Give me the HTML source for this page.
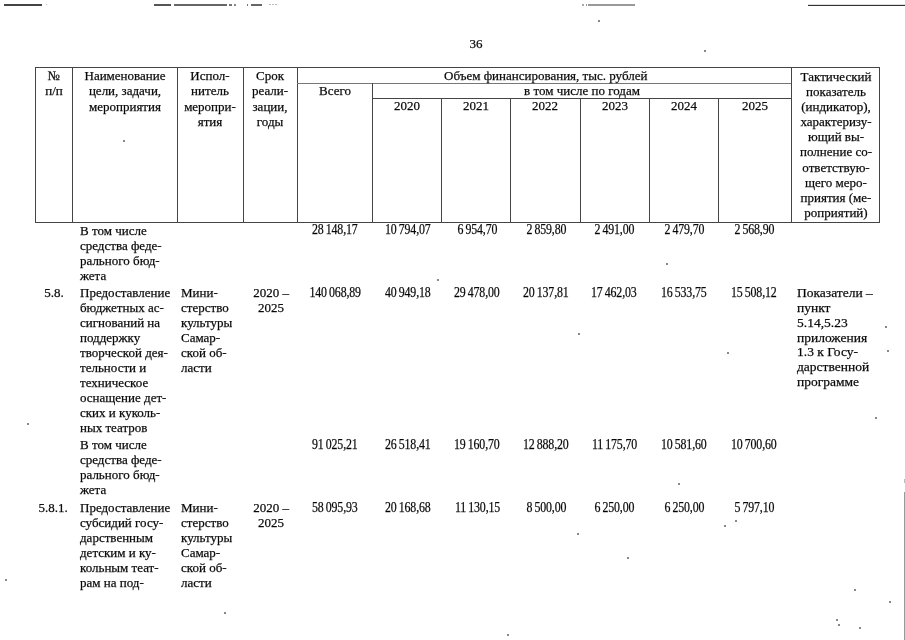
<!DOCTYPE html>
<html><head><meta charset="utf-8"><style>
html,body{margin:0;padding:0;background:#fff;}
body{width:905px;height:640px;position:relative;overflow:hidden;}
.l{position:absolute;}
.t{position:absolute;will-change:transform;font-family:"Liberation Serif",serif;font-size:13px;color:#000;white-space:nowrap;-webkit-text-stroke:0.25px #222;}
</style></head><body>
<div class="l" style="left:4px;top:4px;width:38px;height:1.6px;background:#444"></div>
<div class="l" style="left:46px;top:4px;width:1px;height:1px;background:#bbb"></div>
<div class="l" style="left:154px;top:4.3px;width:17px;height:1.4px;background:#555"></div>
<div class="l" style="left:174px;top:4.3px;width:53px;height:1.4px;background:#666"></div>
<div class="l" style="left:229px;top:4.3px;width:3px;height:1.4px;background:#777"></div>
<div class="l" style="left:234px;top:4.3px;width:2px;height:1.4px;background:#888"></div>
<div class="l" style="left:247px;top:4.3px;width:1px;height:1.4px;background:#777"></div>
<div class="l" style="left:251px;top:4.3px;width:11px;height:1.4px;background:#666"></div>
<div class="l" style="left:269px;top:4px;width:2px;height:1px;background:#bbb"></div>
<div class="l" style="left:272px;top:4px;width:2px;height:1px;background:#bbb"></div>
<div class="l" style="left:275px;top:4px;width:2px;height:1px;background:#bbb"></div>
<div class="l" style="left:582px;top:4px;width:2px;height:2px;background:#aaa"></div>
<div class="l" style="left:586px;top:4px;width:1px;height:2px;background:#999"></div>
<div class="l" style="left:588px;top:4px;width:47px;height:2px;background:#999"></div>
<div class="l" style="left:808px;top:5px;width:97px;height:1px;background:#333"></div>
<div class="l" style="left:808px;top:4px;width:97px;height:1px;background:#ddd"></div>
<div class="l" style="left:904px;top:479px;width:1px;height:4px;background:#bbb"></div>
<div class="l" style="left:904px;top:492px;width:1px;height:148px;background:#999"></div>
<div class="l" style="left:678px;top:483px;width:1.5px;height:1.5px;background:#888"></div>
<div class="l" style="left:724px;top:525px;width:1.5px;height:1.5px;background:#888"></div>
<div class="l" style="left:735px;top:520px;width:1.5px;height:1.5px;background:#888"></div>
<div class="l" style="left:627px;top:557px;width:1.5px;height:1.5px;background:#888"></div>
<div class="l" style="left:854px;top:589px;width:1.5px;height:1.5px;background:#888"></div>
<div class="l" style="left:889px;top:601px;width:1.5px;height:1.5px;background:#888"></div>
<div class="l" style="left:836px;top:619px;width:1.5px;height:1.5px;background:#888"></div>
<div class="l" style="left:838px;top:624px;width:1.5px;height:1.5px;background:#888"></div>
<div class="l" style="left:859px;top:627px;width:1.5px;height:1.5px;background:#888"></div>
<div class="l" style="left:5px;top:579px;width:1.5px;height:1.5px;background:#888"></div>
<div class="l" style="left:224px;top:612px;width:1.5px;height:1.5px;background:#888"></div>
<div class="l" style="left:507px;top:634px;width:1.5px;height:1.5px;background:#888"></div>
<div class="l" style="left:437px;top:279px;width:1.5px;height:1.5px;background:#888"></div>
<div class="l" style="left:666px;top:263px;width:1.5px;height:1.5px;background:#888"></div>
<div class="l" style="left:578px;top:333px;width:1.5px;height:1.5px;background:#888"></div>
<div class="l" style="left:727px;top:352px;width:1.5px;height:1.5px;background:#888"></div>
<div class="l" style="left:885px;top:326px;width:1.5px;height:1.5px;background:#888"></div>
<div class="l" style="left:887px;top:350px;width:1.5px;height:1.5px;background:#888"></div>
<div class="l" style="left:875px;top:417px;width:1.5px;height:1.5px;background:#888"></div>
<div class="l" style="left:123px;top:140px;width:1.5px;height:1.5px;background:#888"></div>
<div class="l" style="left:27px;top:423px;width:1.5px;height:1.5px;background:#888"></div>
<div class="l" style="left:598px;top:20px;width:1.5px;height:1.5px;background:#888"></div>
<div class="l" style="left:577px;top:533px;width:1.5px;height:1.5px;background:#888"></div>
<div class="l" style="left:704px;top:50px;width:1.5px;height:1.5px;background:#888"></div>
<div class="t" style="left:376.3px;width:200px;text-align:center;top:35.81px;line-height:15px;">36</div>
<div class="l" style="left:35px;top:67px;width:845px;height:1px;background:#454545"></div>
<div class="l" style="left:35px;top:222px;width:845px;height:1px;background:#454545"></div>
<div class="l" style="left:35px;top:67px;width:1px;height:156px;background:#454545"></div>
<div class="l" style="left:72px;top:67px;width:1px;height:156px;background:#454545"></div>
<div class="l" style="left:177px;top:67px;width:1px;height:156px;background:#454545"></div>
<div class="l" style="left:243px;top:67px;width:1px;height:156px;background:#454545"></div>
<div class="l" style="left:297px;top:67px;width:1px;height:156px;background:#454545"></div>
<div class="l" style="left:791px;top:67px;width:1px;height:156px;background:#454545"></div>
<div class="l" style="left:879px;top:67px;width:1px;height:156px;background:#454545"></div>
<div class="l" style="left:297px;top:83px;width:494px;height:1px;background:#777"></div>
<div class="l" style="left:372px;top:83px;width:1px;height:139px;background:#454545"></div>
<div class="l" style="left:372px;top:98px;width:419px;height:1px;background:#454545"></div>
<div class="l" style="left:441px;top:98px;width:1px;height:124px;background:#454545"></div>
<div class="l" style="left:510px;top:98px;width:1px;height:124px;background:#454545"></div>
<div class="l" style="left:580px;top:98px;width:1px;height:124px;background:#454545"></div>
<div class="l" style="left:649px;top:98px;width:1px;height:124px;background:#454545"></div>
<div class="l" style="left:718px;top:98px;width:1px;height:124px;background:#454545"></div>
<div class="t" style="left:-46.5px;width:200px;text-align:center;top:67.96px;line-height:15.3px;">№<br>п/п</div>
<div class="t" style="left:24.799999999999997px;width:200px;text-align:center;top:67.96px;line-height:15.3px;">Наименование<br>цели, задачи,<br>мероприятия</div>
<div class="t" style="left:109.80000000000001px;width:200px;text-align:center;top:67.99px;line-height:15.25px;">Испол-<br>нитель<br>меропри-<br>ятия</div>
<div class="t" style="left:170px;width:200px;text-align:center;top:67.99px;line-height:15.25px;">Срок<br>реали-<br>зации,<br>годы</div>
<div class="t" style="left:444px;width:200px;text-align:center;top:67.91px;line-height:15px;">Объем финансирования, тыс. рублей</div>
<div class="t" style="left:234.5px;width:200px;text-align:center;top:83.11px;line-height:15px;">Всего</div>
<div class="t" style="left:481.5px;width:200px;text-align:center;top:83.11px;line-height:15px;">в том числе по годам</div>
<div class="t" style="left:307px;width:200px;text-align:center;top:98.41px;line-height:15px;">2020</div>
<div class="t" style="left:376px;width:200px;text-align:center;top:98.41px;line-height:15px;">2021</div>
<div class="t" style="left:445px;width:200px;text-align:center;top:98.41px;line-height:15px;">2022</div>
<div class="t" style="left:514.5px;width:200px;text-align:center;top:98.41px;line-height:15px;">2023</div>
<div class="t" style="left:583.5px;width:200px;text-align:center;top:98.41px;line-height:15px;">2024</div>
<div class="t" style="left:654.5px;width:200px;text-align:center;top:98.41px;line-height:15px;">2025</div>
<div class="t" style="left:735.5px;width:200px;text-align:center;top:68.76px;line-height:15.1px;">Тактический<br>показатель<br>(индикатор),<br>характеризу-<br>ющий вы-<br>полнение со-<br>ответствую-<br>щего меро-<br>приятия (ме-<br>роприятий)</div>
<div class="t" style="left:79.5px;top:222.71px;line-height:15px;">В том числе<br>средства феде-<br>рального бюд-<br>жета</div>
<div class="t n" style="left:234.75px;width:200px;text-align:center;top:222.08px;line-height:15px;font-size:14px;letter-spacing:-0.2px"><span style="display:inline-block;transform:scaleX(0.85)">28<span style="display:inline-block;width:2.6px"></span>148,17</span></div>
<div class="t n" style="left:307.5px;width:200px;text-align:center;top:222.08px;line-height:15px;font-size:14px;letter-spacing:-0.2px"><span style="display:inline-block;transform:scaleX(0.85)">10<span style="display:inline-block;width:2.6px"></span>794,07</span></div>
<div class="t n" style="left:376.5px;width:200px;text-align:center;top:222.08px;line-height:15px;font-size:14px;letter-spacing:-0.2px"><span style="display:inline-block;transform:scaleX(0.85)">6<span style="display:inline-block;width:2.6px"></span>954,70</span></div>
<div class="t n" style="left:445.5px;width:200px;text-align:center;top:222.08px;line-height:15px;font-size:14px;letter-spacing:-0.2px"><span style="display:inline-block;transform:scaleX(0.85)">2<span style="display:inline-block;width:2.6px"></span>859,80</span></div>
<div class="t n" style="left:514px;width:200px;text-align:center;top:222.08px;line-height:15px;font-size:14px;letter-spacing:-0.2px"><span style="display:inline-block;transform:scaleX(0.85)">2<span style="display:inline-block;width:2.6px"></span>491,00</span></div>
<div class="t n" style="left:583.5px;width:200px;text-align:center;top:222.08px;line-height:15px;font-size:14px;letter-spacing:-0.2px"><span style="display:inline-block;transform:scaleX(0.85)">2<span style="display:inline-block;width:2.6px"></span>479,70</span></div>
<div class="t n" style="left:654px;width:200px;text-align:center;top:222.08px;line-height:15px;font-size:14px;letter-spacing:-0.2px"><span style="display:inline-block;transform:scaleX(0.85)">2<span style="display:inline-block;width:2.6px"></span>568,90</span></div>
<div class="t" style="left:-45.7px;width:200px;text-align:center;top:285.11px;line-height:15px;">5.8.</div>
<div class="t" style="left:80px;top:285.31px;line-height:15px;">Предоставление<br>бюджетных ас-<br>сигнований на<br>поддержку<br>творческой дея-<br>тельности и<br>техническое<br>оснащение дет-<br>ских и куколь-<br>ных театров</div>
<div class="t" style="left:180.6px;top:285.31px;line-height:15px;">Мини-<br>стерство<br>культуры<br>Самар-<br>ской об-<br>ласти</div>
<div class="t" style="left:171px;width:200px;text-align:center;top:285.31px;line-height:15px;">2020 –<br>2025</div>
<div class="t n" style="left:234.75px;width:200px;text-align:center;top:284.77px;line-height:15px;font-size:14px;letter-spacing:-0.2px"><span style="display:inline-block;transform:scaleX(0.85)">140<span style="display:inline-block;width:2.6px"></span>068,89</span></div>
<div class="t n" style="left:307.5px;width:200px;text-align:center;top:284.77px;line-height:15px;font-size:14px;letter-spacing:-0.2px"><span style="display:inline-block;transform:scaleX(0.85)">40<span style="display:inline-block;width:2.6px"></span>949,18</span></div>
<div class="t n" style="left:376.5px;width:200px;text-align:center;top:284.77px;line-height:15px;font-size:14px;letter-spacing:-0.2px"><span style="display:inline-block;transform:scaleX(0.85)">29<span style="display:inline-block;width:2.6px"></span>478,00</span></div>
<div class="t n" style="left:445.5px;width:200px;text-align:center;top:284.77px;line-height:15px;font-size:14px;letter-spacing:-0.2px"><span style="display:inline-block;transform:scaleX(0.85)">20<span style="display:inline-block;width:2.6px"></span>137,81</span></div>
<div class="t n" style="left:514px;width:200px;text-align:center;top:284.77px;line-height:15px;font-size:14px;letter-spacing:-0.2px"><span style="display:inline-block;transform:scaleX(0.85)">17<span style="display:inline-block;width:2.6px"></span>462,03</span></div>
<div class="t n" style="left:583.5px;width:200px;text-align:center;top:284.77px;line-height:15px;font-size:14px;letter-spacing:-0.2px"><span style="display:inline-block;transform:scaleX(0.85)">16<span style="display:inline-block;width:2.6px"></span>533,75</span></div>
<div class="t n" style="left:654px;width:200px;text-align:center;top:284.77px;line-height:15px;font-size:14px;letter-spacing:-0.2px"><span style="display:inline-block;transform:scaleX(0.85)">15<span style="display:inline-block;width:2.6px"></span>508,12</span></div>
<div class="t" style="left:797.2px;top:286.12px;line-height:14.85px;font-size:13.5px;">Показатели –<br>пункт<br>5.14,5.23<br>приложения<br>1.3 к Госу-<br>дарственной<br>программе</div>
<div class="t" style="left:80px;top:437.31px;line-height:15px;">В том числе<br>средства феде-<br>рального бюд-<br>жета</div>
<div class="t n" style="left:234.75px;width:200px;text-align:center;top:437.27px;line-height:15px;font-size:14px;letter-spacing:-0.2px"><span style="display:inline-block;transform:scaleX(0.85)">91<span style="display:inline-block;width:2.6px"></span>025,21</span></div>
<div class="t n" style="left:307.5px;width:200px;text-align:center;top:437.27px;line-height:15px;font-size:14px;letter-spacing:-0.2px"><span style="display:inline-block;transform:scaleX(0.85)">26<span style="display:inline-block;width:2.6px"></span>518,41</span></div>
<div class="t n" style="left:376.5px;width:200px;text-align:center;top:437.27px;line-height:15px;font-size:14px;letter-spacing:-0.2px"><span style="display:inline-block;transform:scaleX(0.85)">19<span style="display:inline-block;width:2.6px"></span>160,70</span></div>
<div class="t n" style="left:445.5px;width:200px;text-align:center;top:437.27px;line-height:15px;font-size:14px;letter-spacing:-0.2px"><span style="display:inline-block;transform:scaleX(0.85)">12<span style="display:inline-block;width:2.6px"></span>888,20</span></div>
<div class="t n" style="left:514px;width:200px;text-align:center;top:437.27px;line-height:15px;font-size:14px;letter-spacing:-0.2px"><span style="display:inline-block;transform:scaleX(0.85)">11<span style="display:inline-block;width:2.6px"></span>175,70</span></div>
<div class="t n" style="left:583.5px;width:200px;text-align:center;top:437.27px;line-height:15px;font-size:14px;letter-spacing:-0.2px"><span style="display:inline-block;transform:scaleX(0.85)">10<span style="display:inline-block;width:2.6px"></span>581,60</span></div>
<div class="t n" style="left:654px;width:200px;text-align:center;top:437.27px;line-height:15px;font-size:14px;letter-spacing:-0.2px"><span style="display:inline-block;transform:scaleX(0.85)">10<span style="display:inline-block;width:2.6px"></span>700,60</span></div>
<div class="t" style="left:-46.6px;width:200px;text-align:center;top:500.11px;line-height:15px;">5.8.1.</div>
<div class="t" style="left:80px;top:500.11px;line-height:15px;">Предоставление<br>субсидий госу-<br>дарственным<br>детским и ку-<br>кольным теат-<br>рам на под-</div>
<div class="t" style="left:180.6px;top:500.11px;line-height:15px;">Мини-<br>стерство<br>культуры<br>Самар-<br>ской об-<br>ласти</div>
<div class="t" style="left:171px;width:200px;text-align:center;top:500.11px;line-height:15px;">2020 –<br>2025</div>
<div class="t n" style="left:234.75px;width:200px;text-align:center;top:499.57px;line-height:15px;font-size:14px;letter-spacing:-0.2px"><span style="display:inline-block;transform:scaleX(0.85)">58<span style="display:inline-block;width:2.6px"></span>095,93</span></div>
<div class="t n" style="left:307.5px;width:200px;text-align:center;top:499.57px;line-height:15px;font-size:14px;letter-spacing:-0.2px"><span style="display:inline-block;transform:scaleX(0.85)">20<span style="display:inline-block;width:2.6px"></span>168,68</span></div>
<div class="t n" style="left:376.5px;width:200px;text-align:center;top:499.57px;line-height:15px;font-size:14px;letter-spacing:-0.2px"><span style="display:inline-block;transform:scaleX(0.85)">11<span style="display:inline-block;width:2.6px"></span>130,15</span></div>
<div class="t n" style="left:445.5px;width:200px;text-align:center;top:499.57px;line-height:15px;font-size:14px;letter-spacing:-0.2px"><span style="display:inline-block;transform:scaleX(0.85)">8<span style="display:inline-block;width:2.6px"></span>500,00</span></div>
<div class="t n" style="left:514px;width:200px;text-align:center;top:499.57px;line-height:15px;font-size:14px;letter-spacing:-0.2px"><span style="display:inline-block;transform:scaleX(0.85)">6<span style="display:inline-block;width:2.6px"></span>250,00</span></div>
<div class="t n" style="left:583.5px;width:200px;text-align:center;top:499.57px;line-height:15px;font-size:14px;letter-spacing:-0.2px"><span style="display:inline-block;transform:scaleX(0.85)">6<span style="display:inline-block;width:2.6px"></span>250,00</span></div>
<div class="t n" style="left:654px;width:200px;text-align:center;top:499.57px;line-height:15px;font-size:14px;letter-spacing:-0.2px"><span style="display:inline-block;transform:scaleX(0.85)">5<span style="display:inline-block;width:2.6px"></span>797,10</span></div>
</body></html>
